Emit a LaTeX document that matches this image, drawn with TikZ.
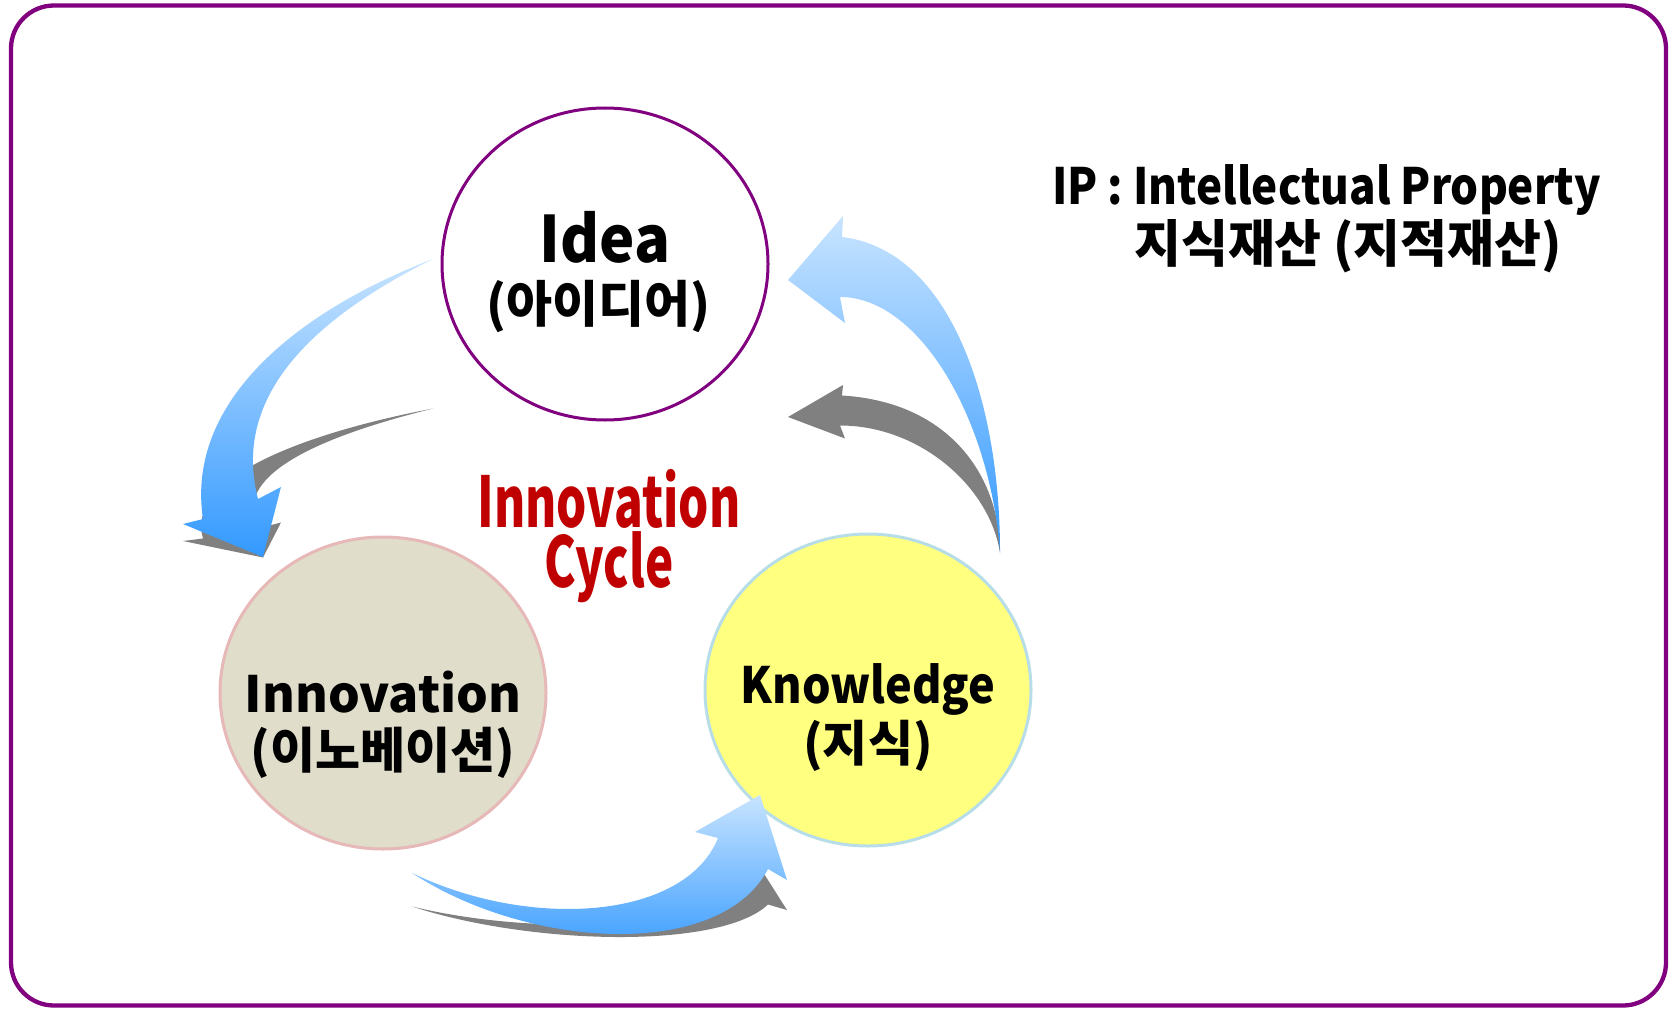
\documentclass[tikz,border=0pt]{standalone}
\usepackage{fontspec}
\usetikzlibrary{shapes.geometric}
\newfontfamily\kr{Noto Sans CJK KR}
\newfontfamily\krc{Noto Sans CJK KR}[FakeStretch=0.68]
\newfontfamily\kri{Noto Sans CJK KR}[FakeStretch=0.88]
\newfontfamily\krk{Noto Sans CJK KR}[FakeStretch=0.9]
\newfontfamily\krm{Noto Sans CJK KR}[FakeStretch=0.93]
\definecolor{framepurple}{RGB}{128,0,128}
\definecolor{beigefill}{RGB}{224,221,203}
\definecolor{beigeline}{RGB}{230,184,183}
\definecolor{yellowfill}{RGB}{255,255,128}
\definecolor{yellowline}{RGB}{183,222,232}
\definecolor{cyclered}{RGB}{192,0,0}
\definecolor{lightblue}{RGB}{200,228,255}
\definecolor{deepblue}{RGB}{51,153,255}
\definecolor{shadowgray}{RGB}{128,128,128}
\newcommand\arrowA[1]{\path[#1] (433,259) .. controls (300,310) and (185,400) .. (203,519) -- (183,524) -- (263,557) -- (281,487) -- (258,499) .. controls (235,410) and (290,330) .. (433,259) -- cycle;}
\newcommand\arrowB[1]{\path[#1] (412,873) .. controls (530,950) and (720,960) .. (768,869) -- (787,880) -- (760,795) -- (695,832) -- (718,838) .. controls (685,920) and (530,930) .. (412,873) -- cycle;}
\newcommand\arrowC[1]{\path[#1] (1000,552) .. controls (1000,400) and (950,250) .. (842,237) -- (843,216) -- (788,280) -- (845,323) -- (840,297) .. controls (920,297) and (990,420) .. (1000,552) -- cycle;}
\tikzset{
  circletext/.style={font=\kr\bfseries\fontsize{50}{56}\selectfont, text=black, inner sep=0pt},
  korline/.style={font=\kr\bfseries\fontsize{49}{54}\selectfont, text=black, inner sep=0pt},
  cycletext/.style={font=\krc\bfseries\fontsize{70}{60}\selectfont, text=cyclered, inner sep=0pt, align=center},
  iptext/.style={font=\kri\bfseries\fontsize{50}{56}\selectfont, text=black, inner sep=0pt, anchor=west},
  bubble/.style={ellipse, minimum width=326pt, minimum height=312pt, line width=3pt, inner sep=0pt},
  bluegrad/.style={top color=lightblue, bottom color=deepblue, draw=none},
  shadowfill/.style={fill=shadowgray, draw=none}
}
\begin{document}
\begin{tikzpicture}[x=1pt,y=-1pt]
\useasboundingbox (0,0) rectangle (1675,1011);
\node[draw=framepurple, line width=4.3pt, rounded corners=43pt, minimum width=1655pt, minimum height=1000pt, inner sep=0pt] (frame) at (838.5,505.5) {};
% ellipses
\node[bubble, draw=framepurple, fill=white] (idea) at (605,264) {};
\node[bubble, draw=beigeline, fill=beigefill] (innov) at (383,693) {};
\node[bubble, draw=yellowline, fill=yellowfill] (know) at (868,690) {};
% shadows
\begin{scope}[shift={(0,279)}, yscale=0.5]\arrowA{shadowfill}\end{scope}
\begin{scope}[shift={(0,470)}, yscale=0.5]\arrowB{shadowfill}\end{scope}
\begin{scope}[shift={(0,277)}, yscale=0.5]\arrowC{shadowfill}\end{scope}
% blue arrows
\arrowA{bluegrad}
\arrowB{bluegrad}
\arrowC{bluegrad}
% texts
\node[circletext, font=\krm\bfseries\fontsize{64}{70}\selectfont] (ideaT) at (605,237) {Idea};
\node[korline, font=\kr\bfseries\fontsize{50}{56}\selectfont] (ideaK) at (598,306) {(아이디어)};
\node[circletext] (innovT) at (383,692) {Innovation};
\node[korline] (innovK) at (383,753) {(이노베이션)};
\node[circletext, font=\krk\bfseries\fontsize{50}{56}\selectfont] (knowT) at (868,689) {Knowledge};
\node[korline] (knowK) at (868,746) {(지식)};
\node[cycletext] (cyc) at (609,536) {Innovation\\Cycle};
\node[iptext] (ip1) at (1052,190) {IP : Intellectual Property};
\node[iptext, font=\kr\bfseries\fontsize{51}{56}\selectfont] (ip2) at (1134,246) {지식재산 (지적재산)};
\end{tikzpicture}
\end{document}
